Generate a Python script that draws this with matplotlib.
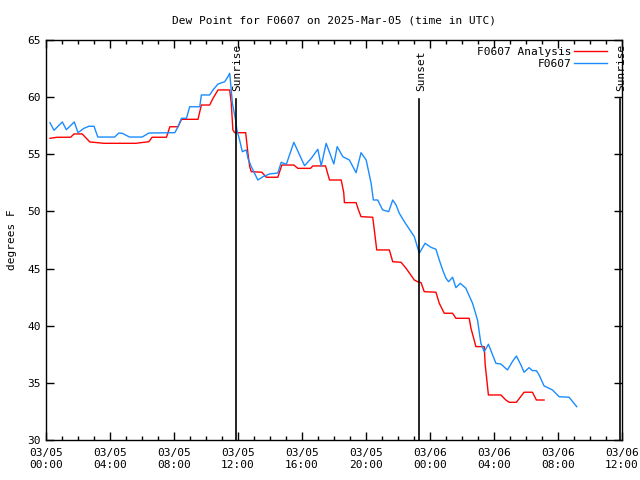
import matplotlib
matplotlib.use("Agg")
import matplotlib.pyplot as plt
import numpy as np

# hours since 2025-03-05 00:00 UTC
obs_hours = [0.25, 0.5, 1.02, 1.27, 1.77, 2.0, 2.37, 2.68, 3.0, 3.24, 4.29, 4.55, 4.76, 5.22, 6.01, 6.43,
             8.05, 8.25, 8.47, 8.78, 8.98, 9.61, 9.71, 10.23, 10.44, 10.75, 11.17, 11.37, 11.48, 11.54,
             11.65, 11.85, 11.93, 12.1, 12.27, 12.52, 12.62, 12.83, 13.24, 13.56, 13.97, 14.49, 14.7,
             15.02, 15.49, 15.85, 16.16, 16.58, 16.99, 17.2, 17.51, 17.99, 18.2, 18.55, 18.96, 19.38,
             19.69, 20.01, 20.32, 20.46, 20.73, 21.04, 21.42, 21.67, 21.88, 22.08, 22.4, 23.02, 23.33,
             23.69, 24.06, 24.37, 24.58, 24.79, 25.0, 25.16, 25.41, 25.62, 25.89, 26.24, 26.66, 26.97,
             27.18, 27.39, 27.65, 28.12, 28.43, 28.84, 29.15, 29.4, 29.68, 29.88, 30.19, 30.4, 30.65,
             30.82, 31.13, 31.44, 31.65, 32.07, 32.69, 33.0, 33.17]
obs_dewpt = [57.76, 57.1, 57.83, 57.15, 57.83, 56.89, 57.27, 57.45, 57.45, 56.51, 56.51, 56.86, 56.84, 56.51,
             56.51, 56.86, 56.89, 57.41, 58.15, 58.15, 59.16, 59.16, 60.19, 60.19, 60.63, 61.15, 61.35,
             61.79, 62.09, 61.21, 59.46, 58.0, 57.13, 56.25, 55.23, 55.38, 54.65, 53.92, 52.75, 53.04,
             53.28, 53.36, 54.3, 54.12, 56.05, 54.94, 54.0, 54.65, 55.44, 53.98, 55.96, 54.15, 55.67,
             54.79, 54.5, 53.39, 55.14, 54.5, 52.46, 51.0, 51.0, 50.13, 49.98, 51.0, 50.56, 49.84, 49.1,
             47.79, 46.34, 47.21, 46.86, 46.69, 45.75, 44.88, 44.15, 43.85, 44.24, 43.33, 43.71, 43.28,
             41.96, 40.5, 38.46, 37.73, 38.38, 36.71, 36.65, 36.13, 36.86, 37.35, 36.57, 35.93, 36.33,
             36.07, 36.07, 35.69, 34.73, 34.53, 34.38, 33.79, 33.74, 33.21, 32.92]

ana_hours = [0.25, 0.7, 1.54, 1.75, 2.26, 2.74, 3.62, 5.6, 6.43, 6.63, 7.53, 7.74, 8.25, 8.47, 9.5, 9.71,
             10.23, 10.44, 10.75, 11.48, 11.58, 11.68, 11.79, 12.48, 12.62, 12.73, 12.83, 13.49, 13.77,
             14.49, 14.74, 15.49, 15.74, 16.53, 16.68, 17.47, 17.72, 18.45, 18.61, 18.65, 19.38, 19.53,
             19.69, 20.42, 20.52, 20.67, 21.46, 21.67, 22.19, 22.5, 23.02, 23.23, 23.44, 23.64, 24.37,
             24.58, 24.89, 25.41, 25.62, 26.45, 26.56, 26.87, 27.39, 27.45, 27.53, 27.65, 28.43, 28.74,
             28.95, 29.4, 29.88, 30.4, 30.65, 31.13]
ana_dewpt = [56.4, 56.49, 56.49, 56.78, 56.78, 56.08, 55.96, 55.96, 56.1, 56.49, 56.49, 57.41, 57.41, 58.06,
             58.06, 59.31, 59.31, 59.9, 60.63, 60.63, 59.46, 57.13, 56.89, 56.89, 55.09, 53.92, 53.48,
             53.43, 52.99, 52.99, 54.06, 54.06, 53.77, 53.77, 53.98, 53.98, 52.75, 52.75, 51.64, 50.77,
             50.77, 50.13, 49.54, 49.49, 48.38, 46.63, 46.63, 45.6, 45.55, 45.03, 44.0, 43.85, 43.77,
             42.98, 42.93, 41.96, 41.09, 41.09, 40.65, 40.65, 39.78, 38.17, 38.17, 36.57, 35.54, 33.94,
             33.94, 33.5, 33.3, 33.3, 34.18, 34.18, 33.5, 33.5]

events = ["Sunrise", "Sunset", "Sunrise"]
event_hours = [11.85, 23.33, 35.85]

tick_hours = [0, 4, 8, 12, 16, 20, 24, 28, 32, 36]
tick_labels = ["03/05\n00:00", "03/05\n04:00", "03/05\n08:00", "03/05\n12:00", "03/05\n16:00",
               "03/05\n20:00", "03/06\n00:00", "03/06\n04:00", "03/06\n08:00", "03/06\n12:00"]

plt.rcParams['font.family'] = ['DejaVu Sans Mono']
plt.rcParams['font.size'] = 8

fig = plt.figure(figsize=(6.4, 4.8), dpi=100)
ax = fig.add_axes([46/640, 40/480, 576/640, 400/480])

ax.plot(ana_hours, ana_dewpt, color='#ff0000', lw=1.0, label='F0607 Analysis')
ax.plot(obs_hours, obs_dewpt, color='#1a8cff', lw=1.0, label='F0607')

for name, h in zip(events, event_hours):
    ax.plot([h, h], [30, 59.8], color='black', lw=1.2)
    ax.text(h + 0.1, 60.5, name, rotation=90, ha='center', va='bottom', fontsize=8)

ax.set_xlim(0, 36)
ax.set_ylim(30, 65)
ax.set_xticks(tick_hours)
ax.set_xticklabels(tick_labels)
ax.set_xticks(np.arange(0, 37, 1), minor=True)
ax.set_yticks(np.arange(30, 66, 5))
ax.tick_params(axis='both', which='major', direction='in', length=6, top=True, right=True, width=1)
ax.tick_params(axis='both', which='minor', direction='in', length=3, top=True, right=True, width=1)
ax.tick_params(axis='x', which='major', pad=6)
for s in ax.spines.values():
    s.set_linewidth(1.0)

ax.set_title("Dew Point for F0607 on 2025-Mar-05 (time in UTC)", fontsize=8, pad=12)
ax.set_ylabel("degrees F", fontsize=8, labelpad=8)

leg = ax.legend(loc='upper right', frameon=False, markerfirst=False, handlelength=2.9,
                handletextpad=0.3, borderaxespad=0.2, labelspacing=0.2, fontsize=8,
                bbox_to_anchor=(0.985, 1.0))
for t in leg.get_texts():
    t.set_ha('right')

fig.savefig("out.png", dpi=100)
